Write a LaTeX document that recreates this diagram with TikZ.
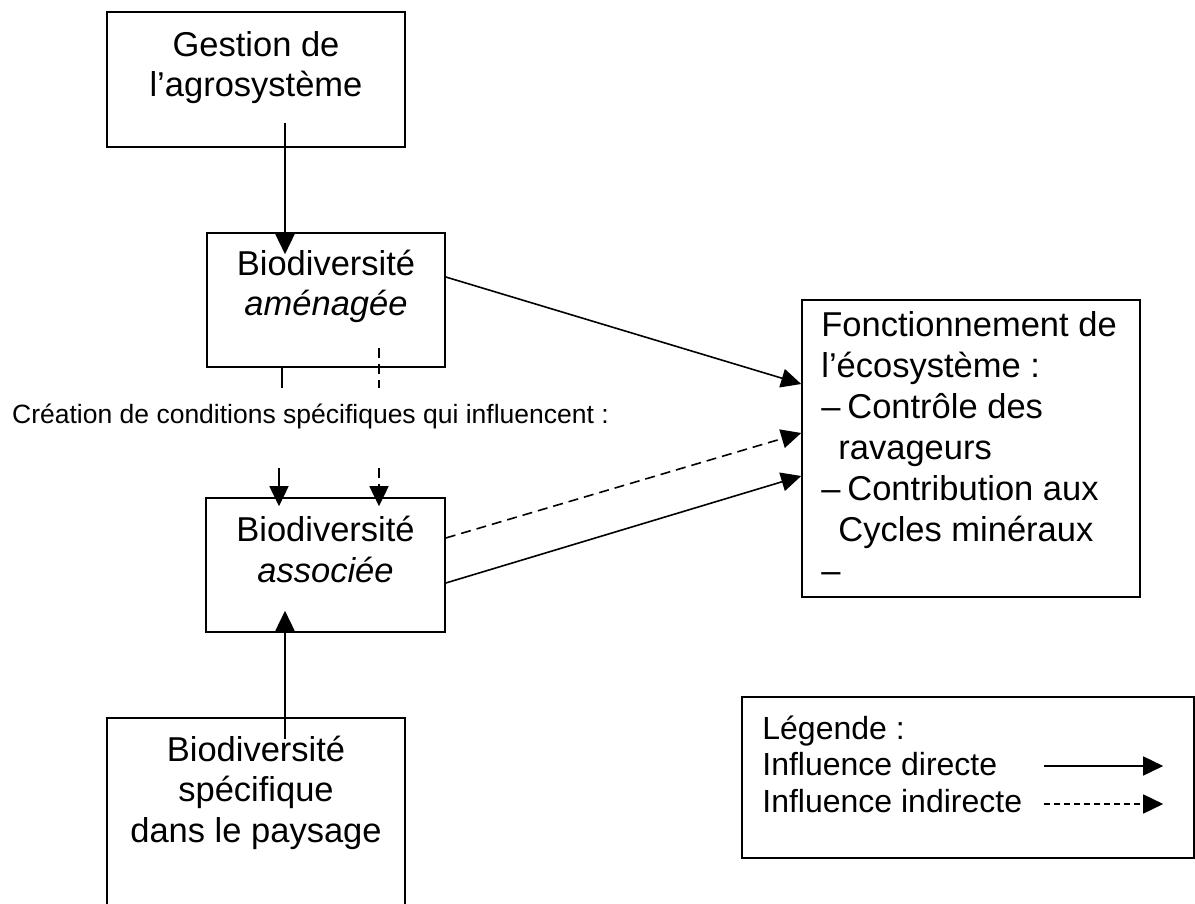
\documentclass[tikz,border=0pt]{standalone}
\usepackage{fontspec}
\setmainfont{Liberation Sans}
\usetikzlibrary{arrows.meta, positioning, calc}

\begin{document}
\begin{tikzpicture}[
  x=1pt, y=-1pt,
  box/.style={draw, line width=1.6pt, inner sep=0pt},
  txt/.style={anchor=base, inner sep=0pt, font=\fontsize{34.5pt}{40.5pt}\selectfont},
  direct/.style={-{Triangle[length=20pt,width=19pt]}, line width=1.6pt},
  indirect/.style={direct, dash pattern=on 10pt off 6pt}
]
\useasboundingbox (0,0) rectangle (1195,904);
\clip (0,0) rectangle (1195,904);

% boites
\node[box, minimum width=298pt, minimum height=135pt] (gestion) at (256,79.5) {};
\node[box, minimum width=238pt, minimum height=134pt] (amenagee) at (326,300) {};
\node[box, minimum width=239pt, minimum height=134pt] (associee) at (325.5,565) {};
\node[box, minimum width=298pt, minimum height=242pt] (paysage) at (256,839) {};
\node[box, minimum width=338pt, minimum height=297pt] (fonction) at (971,448.5) {};
\node[box, minimum width=452pt, minimum height=161pt] (legende) at (968,777.5) {};

% textes
\node[txt] (gestiontxt) at ($(gestion.north)+(0,45)$) {%
\begin{tabular}[t]{@{}c@{}}
Gestion de\\
l’agrosystème
\end{tabular}};

\node[txt] (amenageetxt) at ($(amenagee.north)+(0,43)$) {%
\begin{tabular}[t]{@{}c@{}}
Biodiversité\\
\textit{aménagée}
\end{tabular}};

\node[txt] (associeetxt) at ($(associee.north)+(0,44.5)$) {%
\begin{tabular}[t]{@{}c@{}}
Biodiversité\\
\textit{associée}
\end{tabular}};

\node[txt] (paysagetxt) at ($(paysage.north)+(0,44)$) {%
\begin{tabular}[t]{@{}c@{}}
Biodiversité\\
spécifique\\
dans le paysage
\end{tabular}};

\node[txt, anchor=base west, font=\fontsize{34.5pt}{41pt}\selectfont] (fonctiontxt) at ($(fonction.north west)+(20,37)$) {%
\begin{tabular}[t]{@{}l@{}}
Fonctionnement de\\
l’écosystème :\\
\makebox[26pt][l]{\textendash}Contrôle des\\
\hspace{17pt}ravageurs\\
\makebox[26pt][l]{\textendash}Contribution aux\\
\hspace{17pt}Cycles minéraux\\
\textendash
\end{tabular}};

\node[txt, anchor=base west, font=\fontsize{32pt}{36.5pt}\selectfont] (legendetxt) at ($(legende.north west)+(21,43)$) {%
\begin{tabular}[t]{@{}l@{}}
Légende :\\
Influence directe\\
Influence indirecte
\end{tabular}};

\node[txt, anchor=base west, font=\fontsize{26.5pt}{30pt}\selectfont] (conditions) at (12,423) {Création de conditions spécifiques qui influencent :};

% influences
\draw[direct] ($(gestion.south)+(29,-25)$) -- ($(amenagee.north)+(-41,22)$);
\draw[direct] ($(amenagee.east)+(0,-23)$) -- ($(fonction.west)+(0,-64.5)$);
\draw[indirect] ($(associee.east)+(0,-27)$) -- ($(fonction.west)+(0,-15.5)$);
\draw[direct] ($(associee.east)+(0,18)$) -- ($(fonction.west)+(0,27.5)$);
\draw[direct] ($(paysage.north)+(29,22)$) -- ($(associee.south)+(-40.5,-22)$);

% amenagee -> associee (coupees par le texte)
\draw[line width=1.6pt] ($(amenagee.south)+(-44,0)$) -- ($(amenagee.south)+(-44,20)$);
\draw[line width=1.6pt, dash pattern=on 10pt off 6pt] ($(amenagee.south)+(53,-20)$) -- ($(amenagee.south)+(53,20)$);
\draw[direct] ($(associee.north)+(-46.5,-29)$) -- ($(associee.north)+(-46.5,9)$);
\draw[indirect] ($(associee.north)+(53.5,-29)$) -- ($(associee.north)+(53.5,9)$);

% legende
\draw[direct] ($(legende.west)+(303,-11.5)$) -- ($(legende.west)+(422,-11.5)$);
\draw[direct, dash pattern=on 6pt off 4pt] ($(legende.west)+(303,26.5)$) -- ($(legende.west)+(422,26.5)$);

\end{tikzpicture}
\end{document}
